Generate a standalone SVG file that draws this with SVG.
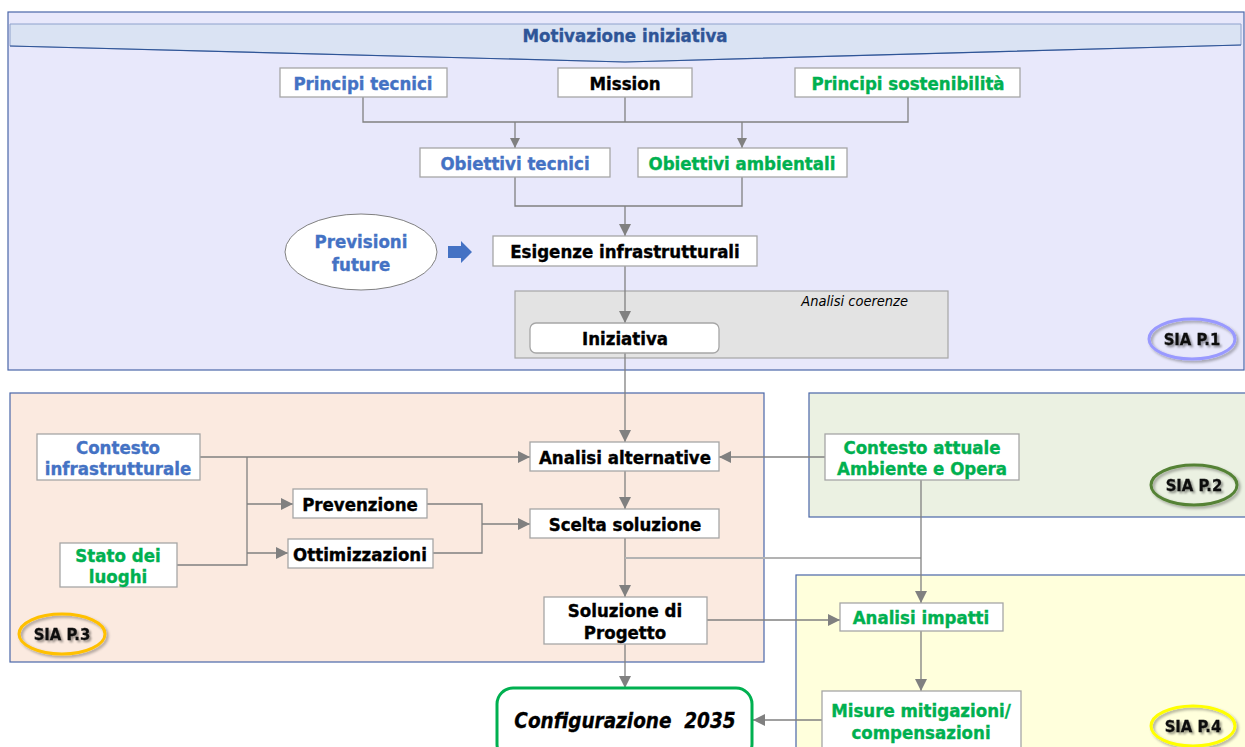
<svg xmlns="http://www.w3.org/2000/svg" width="1245" height="747" viewBox="0 0 1245 747">
  <defs>
    <style>
      .panel { stroke: #4a66a8; stroke-width: 1.2; }
      .box { fill: #ffffff; stroke: #a6a6a6; stroke-width: 1.3; }
      .t { font-family: "DejaVu Sans Condensed", "DejaVu Sans", sans-serif; font-weight: bold; font-size: 18.5px; text-anchor: middle; stroke-width: 0.35px; }
      .blue { fill: #4472c4; stroke: #4472c4; }
      .green { fill: #00b050; stroke: #00b050; }
      .black { fill: #000000; stroke: #000000; }
      .conn { fill: none; stroke: #808080; stroke-width: 1.3; }
      .sia { fill: none; stroke-width: 3; filter: url(#shadow); }
      .siat { font-family: "DejaVu Sans Condensed", "DejaVu Sans", sans-serif; font-weight: bold; font-size: 16.5px; text-anchor: middle; fill: #111111; stroke: #111111; stroke-width: 0.3px; filter: url(#tshadow); }
    </style>
    <marker id="arr" viewBox="0 0 10 10" refX="10" refY="5" markerWidth="10" markerHeight="10" markerUnits="userSpaceOnUse" orient="auto">
      <path d="M0,0 L10,5 L0,10 z" fill="#808080"/>
    </marker>
    <marker id="arrL" viewBox="0 0 12 12" refX="12" refY="6" markerWidth="12" markerHeight="12" markerUnits="userSpaceOnUse" orient="auto">
      <path d="M0,0 L12,6 L0,12 z" fill="#808080"/>
    </marker>
    <filter id="shadow" x="-20%" y="-30%" width="150%" height="180%">
      <feGaussianBlur in="SourceAlpha" stdDeviation="1.5"/>
      <feOffset dx="2" dy="2" result="b"/>
      <feComponentTransfer><feFuncA type="linear" slope="0.35"/></feComponentTransfer>
      <feMerge><feMergeNode/><feMergeNode in="SourceGraphic"/></feMerge>
    </filter>
    <filter id="tshadow" x="-10%" y="-30%" width="130%" height="180%">
      <feGaussianBlur in="SourceAlpha" stdDeviation="1"/>
      <feOffset dx="1.5" dy="1.5" result="b"/>
      <feComponentTransfer><feFuncA type="linear" slope="0.4"/></feComponentTransfer>
      <feMerge><feMergeNode/><feMergeNode in="SourceGraphic"/></feMerge>
    </filter>
  </defs>

  <rect width="1245" height="747" fill="#ffffff"/>

  <!-- Section panels -->
  <g id="panel-p1">
    <rect class="panel" x="8" y="12" width="1236" height="358" fill="#e8e8fb"/>
    <path d="M10,24 L1241,24 L1241,45 L625,62 L10,46 Z" fill="#dae3f3" stroke="#8ea2cc" stroke-width="1"/>
    <path d="M10,46 L625,62 L1241,45" fill="none" stroke="#2f5597" stroke-width="1.2"/>
    <text class="t" x="625" y="42" font-size="19" fill="#2f5597" stroke="#2f5597">Motivazione iniziativa</text>
  </g>
  <g id="panel-p3">
    <rect class="panel" x="10" y="393" width="754" height="269" fill="#fbeae0"/>
  </g>
  <g id="panel-p2">
    <rect class="panel" x="809" y="393" width="440" height="124" fill="#ebf1e2"/>
  </g>
  <g id="panel-p4">
    <rect class="panel" x="796" y="575" width="453" height="180" fill="#ffffdc"/>
  </g>

  <!-- Analisi coerenze frame -->
  <g id="analisi-coerenze">
    <rect x="515" y="291" width="433" height="67" fill="#e3e3e3" stroke="#a6a6a6" stroke-width="1.2"/>
    <text x="908" y="306" font-family="'DejaVu Sans Condensed', 'DejaVu Sans', sans-serif" font-style="italic" font-size="14.5" text-anchor="end" fill="#000000">Analisi coerenze</text>
  </g>

  <!-- Connectors -->
  <g id="connectors">
    <path class="conn" d="M363,97 V122 H908 V97"/>
    <path class="conn" d="M625,97 V122"/>
    <path class="conn" d="M515,122 V148" marker-end="url(#arr)"/>
    <path class="conn" d="M742,122 V148" marker-end="url(#arr)"/>
    <path class="conn" d="M515,177 V206 H742 V177"/>
    <path class="conn" d="M625,206 V236" marker-end="url(#arrL)"/>
    <path class="conn" d="M625,266 V323" marker-end="url(#arrL)"/>
    <path class="conn" d="M625,353 V442" marker-end="url(#arrL)"/>
    <path class="conn" d="M200,457 H530" marker-end="url(#arrL)"/>
    <path class="conn" d="M177,565 H247 V457"/>
    <path class="conn" d="M247,504 H293" marker-end="url(#arrL)"/>
    <path class="conn" d="M247,553 H288" marker-end="url(#arrL)"/>
    <path class="conn" d="M427,504 H482 V553 H433"/>
    <path class="conn" d="M482,524 H530" marker-end="url(#arrL)"/>
    <path class="conn" d="M825,457 H719" marker-end="url(#arrL)"/>
    <path class="conn" d="M625,471 V509" marker-end="url(#arrL)"/>
    <path class="conn" d="M625,538 V597" marker-end="url(#arrL)"/>
    <path d="M625,558 H921" fill="none" stroke="#b3b3b3" stroke-width="2"/>
    <path class="conn" d="M921,480 V603" marker-end="url(#arrL)"/>
    <path class="conn" d="M707,620 H840" marker-end="url(#arrL)"/>
    <path class="conn" d="M921,631 V691" marker-end="url(#arrL)"/>
    <path class="conn" d="M625,644 V688" marker-end="url(#arrL)"/>
    <path class="conn" d="M822,720 H753" marker-end="url(#arrL)"/>
  </g>

  <!-- Nodes -->
  <g id="principi-tecnici">
    <rect class="box" x="280" y="68" width="167" height="29"/>
    <text class="t blue" x="363" y="90">Principi tecnici</text>
  </g>
  <g id="mission">
    <rect class="box" x="558" y="68" width="134" height="29"/>
    <text class="t black" x="625" y="90">Mission</text>
  </g>
  <g id="principi-sostenibilita">
    <rect class="box" x="795" y="68" width="225" height="29"/>
    <text class="t green" x="908" y="90">Principi sostenibilità</text>
  </g>
  <g id="obiettivi-tecnici">
    <rect class="box" x="420" y="148" width="190" height="29"/>
    <text class="t blue" x="515" y="170">Obiettivi tecnici</text>
  </g>
  <g id="obiettivi-ambientali">
    <rect class="box" x="638" y="148" width="209" height="29"/>
    <text class="t green" x="742" y="170">Obiettivi ambientali</text>
  </g>
  <g id="previsioni-future">
    <ellipse cx="361" cy="252" rx="76" ry="38" fill="#ffffff" stroke="#808080" stroke-width="1"/>
    <text class="t blue" x="361" y="248">Previsioni</text>
    <text class="t blue" x="361" y="271">future</text>
    <path d="M448,246 H461 V241 L472,252 L461,263 V258 H448 Z" fill="#4472c4"/>
  </g>
  <g id="esigenze-infrastrutturali">
    <rect class="box" x="493" y="236" width="264" height="30"/>
    <text class="t black" x="625" y="258">Esigenze infrastrutturali</text>
  </g>
  <g id="iniziativa">
    <rect class="box" x="530" y="323" width="189" height="30" rx="6"/>
    <text class="t black" x="625" y="345">Iniziativa</text>
  </g>
  <g id="contesto-infrastrutturale">
    <rect class="box" x="37" y="434" width="163" height="46"/>
    <text class="t blue" x="118" y="454">Contesto</text>
    <text class="t blue" x="118" y="475">infrastrutturale</text>
  </g>
  <g id="stato-dei-luoghi">
    <rect class="box" x="60" y="543" width="117" height="44"/>
    <text class="t green" x="118" y="562">Stato dei</text>
    <text class="t green" x="118" y="583">luoghi</text>
  </g>
  <g id="prevenzione">
    <rect class="box" x="293" y="489" width="134" height="29"/>
    <text class="t black" x="360" y="511">Prevenzione</text>
  </g>
  <g id="ottimizzazioni">
    <rect class="box" x="288" y="539" width="145" height="29"/>
    <text class="t black" x="360" y="561">Ottimizzazioni</text>
  </g>
  <g id="analisi-alternative">
    <rect class="box" x="530" y="442" width="189" height="29"/>
    <text class="t black" x="625" y="464">Analisi alternative</text>
  </g>
  <g id="scelta-soluzione">
    <rect class="box" x="530" y="509" width="189" height="29"/>
    <text class="t black" x="625" y="531">Scelta soluzione</text>
  </g>
  <g id="soluzione-di-progetto">
    <rect class="box" x="544" y="597" width="163" height="47"/>
    <text class="t black" x="625" y="617">Soluzione di</text>
    <text class="t black" x="625" y="639">Progetto</text>
  </g>
  <g id="contesto-attuale">
    <rect class="box" x="825" y="434" width="194" height="46"/>
    <text class="t green" x="922" y="454">Contesto attuale</text>
    <text class="t green" x="922" y="475">Ambiente e Opera</text>
  </g>
  <g id="analisi-impatti">
    <rect class="box" x="840" y="603" width="163" height="28"/>
    <text class="t green" x="921" y="624">Analisi impatti</text>
  </g>
  <g id="misure-mitigazioni">
    <rect class="box" x="822" y="691" width="199" height="70"/>
    <text class="t green" x="921" y="717">Misure mitigazioni/</text>
    <text class="t green" x="921" y="739">compensazioni</text>
  </g>
  <g id="configurazione-2035">
    <rect x="497" y="688" width="255" height="72" rx="16" fill="#ffffff" stroke="#00b050" stroke-width="3"/>
    <text x="625" y="728" font-family="'DejaVu Sans Condensed', 'DejaVu Sans', sans-serif" font-weight="bold" font-style="italic" font-size="20.5" text-anchor="middle" fill="#000000" stroke="#000000" stroke-width="0.3" style="white-space: pre">Configurazione  2035</text>
  </g>

  <!-- Section tags -->
  <g id="sia-p1">
    <ellipse class="sia" cx="1192" cy="339" rx="43" ry="20" stroke="#9999ff"/>
    <text class="siat" x="1192" y="345">SIA P.1</text>
  </g>
  <g id="sia-p2">
    <ellipse class="sia" cx="1194" cy="485" rx="43" ry="20" stroke="#548235"/>
    <text class="siat" x="1194" y="491">SIA P.2</text>
  </g>
  <g id="sia-p3">
    <ellipse class="sia" cx="62" cy="634" rx="43" ry="20" stroke="#ffc000"/>
    <text class="siat" x="62" y="640">SIA P.3</text>
  </g>
  <g id="sia-p4">
    <ellipse class="sia" cx="1193" cy="726" rx="42" ry="20" stroke="#ffff00"/>
    <text class="siat" x="1193" y="732">SIA P.4</text>
  </g>
</svg>
